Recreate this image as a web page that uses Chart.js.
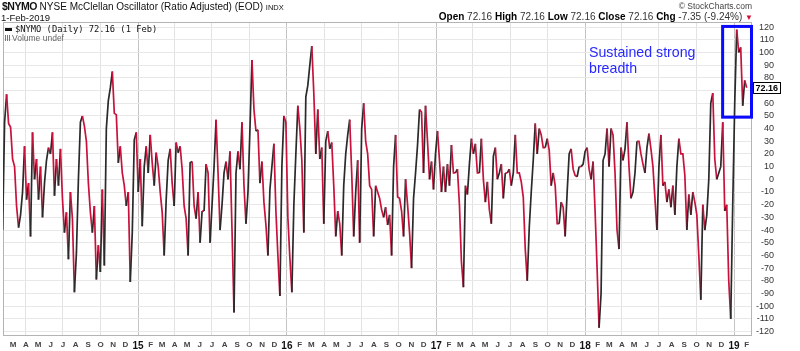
<!DOCTYPE html>
<html>
<head>
<meta charset="utf-8">
<script src="https://cdn.jsdelivr.net/npm/chart.js@4.4.1/dist/chart.umd.min.js"></script>
<style>
  body { margin: 0; background: #fff; }
  #wrap { position: relative; width: 800px; height: 351px; overflow: hidden; font-family: Arial, "Liberation Sans", sans-serif; color: #111; }
  #wrap canvas { position: absolute; left: 0; top: 0; }
  .t { position: absolute; white-space: nowrap; }
  .mono { font-family: "DejaVu Sans Mono", monospace; }
</style>
</head>
<body>
<div id="wrap">
  <canvas id="c" width="800" height="351"></canvas>
  <div class="t" style="left:2px;top:1px;font-size:10px;line-height:10px;"><b style="letter-spacing:-0.5px;font-size:10.5px">$NYMO</b> NYSE McClellan Oscillator (Ratio Adjusted) (EOD) <span style="font-size:7.5px">INDX</span></div>
  <div class="t" style="left:1px;top:13px;font-size:9.5px;line-height:9.5px;">1-Feb-2019</div>
  <div class="t" style="right:48px;top:2px;font-size:8.5px;line-height:8.5px;color:#444;">© StockCharts.com</div>
  <div class="t" style="right:47px;top:12px;font-size:10px;line-height:10px;color:#333;"><b style="color:#000">Open</b> 72.16 <b style="color:#000">High</b> 72.16 <b style="color:#000">Low</b> 72.16 <b style="color:#000">Close</b> 72.16 <b style="color:#000">Chg</b> -7.35 (-9.24%) <span style="color:#d0103a;font-size:8px">▼</span></div>
  <div class="t mono" style="left:5px;top:24px;font-size:8.75px;line-height:10px;"><span style="display:inline-block;width:7px;height:2.5px;background:#111;vertical-align:middle;margin-right:3px"></span>$NYMO (Daily) 72.16 (1 Feb)</div>
  <div class="t" style="left:5px;top:34px;font-size:8.5px;line-height:9px;color:#666;"><span style="display:inline-block;width:6px;height:6px;margin-right:1px;background:linear-gradient(90deg,#777 0 1px,transparent 1px 2px,#777 2px 3px,transparent 3px 4px,#777 4px 5px,transparent 5px);"></span>Volume undef</div>
  <div class="t" style="left:589px;top:44px;font-size:14.2px;line-height:16px;color:#2828ff;">Sustained strong<br>breadth</div>
</div>
<script>
// NYMO readings, about one every 5 calendar days, last one on 1 Feb 2019
const values2014 = [
  -40, 45, 67, 44, 41, 16, 10, -21, -38, -28,
  -10, 26, -16, -3, -45, 37, 0, 16, -16, 10,
  -30, -3, 15, 25, 20, 37, -13, 16, -5, 24,
  -15, -42, -26, -63, -10, -31, -89, -58, 0, 45,
  50, 42, 30, -3, -26, -42, -21, -79, -52, -73,
  -8, -68, 40, 62, 72, 85, 52, 51, 13, 26,
  5, -5, -21, -10, -81, -42, 31, 37, -10, 16,
  -37, 10, 26, 5, 35, 13, -5, 21, 10, -10,
  -26, -60, -16, 15, 24, -3, -21, 29, 21, 26,
  8, -21, -31, -60, 13, 14, -21, -31, -10
];
const values2015 = [
  -50, -25, -25, 12, 5, -50, -20, 10, 47, 5,
  -40, -20, 5, 14, 0, 22, -40, -105, 5, 22,
  8, 45, -5, -35, -10, 40, 94, 55, 38, 39,
  -3, 14, -18, -36, -60, -8, 10, 28, -25, -60,
  -92, 10, 50, 45, -30, -62, -89, -20, 20, 58,
  40, 15, -42, 65, 74, 90, 105, 68, 20, 55,
  16, 25, -35, 30, 38, 24, 29, -5, -45, -25,
  -35, -60, -5, 20, 35, 47, 5, -45, -10, 15,
  -50, 40, 60, 30, 20, -5, -8, -45, -5, -10,
  -15, -24, -30, -22, -36, -28, -60, 10, 35, -14
];
const values2017 = [
  -15, -25, -45, 0, -20, -42, -70, -15, 5, 27,
  55, 53, 5, 58, 30, 0, 14, -8, 20, 38,
  15, -10, 10, -10, 12, -5, 27, 5, 5, 8,
  -20, -65, -85, -5, -12, 12, 32, 20, 28, 5,
  5, 32, 0, -18, -2, -24, -35, 18, 25, 0,
  5, 12, -15, 5, 5, 8, -5, 5, 35, 5,
  5, -2, -14, -55, -80, -38, -10, 15, 44, 20,
  40, 35, 25, 25, 32, 23, -5, 5, -5, -35,
  -35, -18, -22, -45, -10, 20, 24, 8, 3, 2,
  10, 10, 12, 22, 25, 8, 0, 14, -25, -70
];
const values2018 = [
  -117, -90, 15, 20, 40, 10, 40, 35, 5, -40,
  -55, 25, 15, 24, 45, 10, -15, -10, 5, 30,
  30, 20, 12, 5, 25, 36, 24, 10, -15, -40,
  10, 35, -5, -2, -18, -8, -22, -5, -28, 10,
  32, 20, 20, 3, -40, -12, -28, -10, -18, -28,
  -60, -95, -20, -40, -28, 0, 60, 68, 16, 0,
  5, 10, 45, -25, -20, -80, -110, -20, 60, 118,
  100, 104, 58, 78, 72.16
];
const values = [...values2014, ...values2015, ...values2017, ...values2018];

const monthLetters = ["J", "F", "M", "A", "M", "J", "J", "A", "S", "O", "N", "D"];
const yTickValues = [120, 110, 100, 90, 80, 70, 60, 50, 40, 30, 20, 10, 0, -10, -20, -30, -40, -50, -60, -70, -80, -90, -100, -110, -120];
const lastValue = 72.16;

const DAY = 86400000;
const base = Date.UTC(2014, 0, 1);
const dayOf = (y, m, d) => (Date.UTC(y, m, d) - base) / DAY;

const lastDay = dayOf(2019, 1, 1);
const stepDays = 4.89;
const xMin = 34;
const xMax = 1870;

const points = values.map((v, i) => ({
  x: lastDay - (values.length - 1 - i) * stepDays,
  y: v,
}));

const monthTicks = [];
for (let y = 2014; y <= 2019; y++) {
  for (let m = 0; m < 12; m++) {
    const v = dayOf(y, m, 1);
    if (v >= xMin && v <= xMax) monthTicks.push({ value: v, y: y, m: m });
  }
}

const red = "#c8123c";
const dark = "#2a2a2a";

const framePlugin = {
  id: "frame",
  beforeDatasetsDraw(chart) {
    const a = chart.chartArea;
    const ctx = chart.ctx;
    ctx.save();
    ctx.strokeStyle = "#b4b4b4";
    ctx.lineWidth = 1;
    ctx.strokeRect(a.left + 0.5, a.top + 0.5, a.right - a.left - 1, a.bottom - a.top - 1);
    ctx.restore();
  },
  afterDatasetsDraw(chart) {
    const a = chart.chartArea;
    const xs = chart.scales.x;
    const ys = chart.scales.y;
    const ctx = chart.ctx;
    ctx.save();
    // annotation box
    const bx1 = xs.getPixelForValue(dayOf(2018, 11, 4));
    const bx2 = a.right - 0.5;
    const by1 = ys.getPixelForValue(120.5);
    const by2 = ys.getPixelForValue(49);
    ctx.strokeStyle = "#0a0aff";
    ctx.lineWidth = 3;
    ctx.strokeRect(bx1, by1, bx2 - bx1, by2 - by1);
    // last value tag
    const ty = Math.round(ys.getPixelForValue(lastValue));
    ctx.fillStyle = "#fff";
    ctx.fillRect(a.right + 1, ty - 6, 28, 12);
    ctx.strokeStyle = "#000";
    ctx.lineWidth = 1;
    ctx.strokeRect(a.right + 1.5, ty - 5.5, 27, 11);
    ctx.fillStyle = "#000";
    ctx.font = "bold 9px Arial";
    ctx.textBaseline = "middle";
    ctx.textAlign = "left";
    ctx.fillText(lastValue.toFixed(2), a.right + 3.5, ty + 0.5);
    ctx.restore();
  },
};

new Chart(document.getElementById("c"), {
  type: "line",
  data: {
    datasets: [
      {
        data: points,
        borderColor: red,
        borderWidth: 1.7,
        pointRadius: 0,
        tension: 0,
        segment: {
          borderColor: (ctx) => (ctx.p1.parsed.y > ctx.p0.parsed.y ? dark : red),
        },
      },
    ],
  },
  options: {
    responsive: false,
    animation: false,
    devicePixelRatio: 1,
    layout: { padding: { left: 3, top: 22, right: 26, bottom: 0 } },
    plugins: { legend: { display: false }, tooltip: { enabled: false } },
    scales: {
      x: {
        type: "linear",
        min: xMin,
        max: xMax,
        afterBuildTicks: (scale) => {
          scale.ticks = monthTicks.map((t) => ({ value: t.value }));
        },
        afterFit: (scale) => {
          scale.height = 15;
        },
        border: { display: false },
        grid: {
          drawTicks: false,
          color: (ctx) => {
            const t = monthTicks[ctx.index];
            if (!t) return "transparent";
            if (t.m === 0) return "#c4c4c4";
            return t.m % 3 === 0 ? "#e2e2e2" : "transparent";
          },
        },
        ticks: {
          autoSkip: false,
          maxRotation: 0,
          minRotation: 0,
          padding: 4,
          color: (ctx) => {
            const t = monthTicks[ctx.index];
            return t && t.m === 0 ? "#111" : "#444";
          },
          font: (ctx) => {
            const t = monthTicks[ctx.index];
            return t && t.m === 0
              ? { family: "Arial", size: 10, weight: "bold" }
              : { family: "Arial", size: 8, weight: "bold" };
          },
          callback: (value, index) => {
            const t = monthTicks[index];
            if (!t) return "";
            return t.m === 0 ? String(t.y).slice(2) : monthLetters[t.m];
          },
        },
      },
      y: {
        position: "right",
        min: -123.5,
        max: 124,
        afterBuildTicks: (scale) => {
          scale.ticks = yTickValues.map((v) => ({ value: v }));
        },
        afterFit: (scale) => {
          scale.width = 22;
        },
        border: { display: false },
        grid: { drawTicks: false, color: "#e8e8e8" },
        ticks: {
          autoSkip: false,
          crossAlign: "far",
          padding: 2,
          color: "#333",
          font: { family: "Arial", size: 9 },
        },
      },
    },
  },
  plugins: [framePlugin],
});
</script>
</body>
</html>
